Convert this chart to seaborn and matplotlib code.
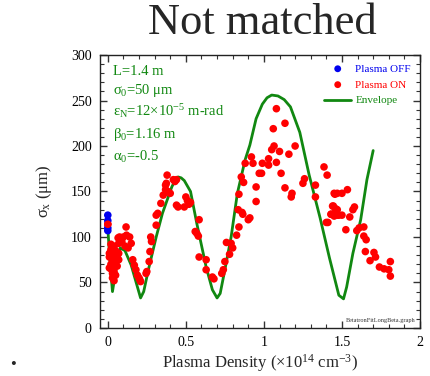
import numpy as np
import pandas as pd
import matplotlib
matplotlib.use("Agg")
import matplotlib.pyplot as plt
from matplotlib.ticker import MultipleLocator
import seaborn as sns

# Plasma OFF measurements (density, beam size in um)
off_density = [0.00, 0.00, 0.00, 0.00]
off_sigma = [124, 118, 110, 107]

# Plasma ON measurements
on_density = [
    0.00, 0.01, 0.01, 0.02, 0.02, 0.02, 0.03, 0.03, 0.04, 0.04, 0.03, 0.04,
    0.05, 0.05, 0.06, 0.06, 0.07, 0.07, 0.04, 0.03, 0.05, 0.02, 0.01,
    0.066, 0.117, 0.075, 0.10, 0.12, 0.15, 0.13, 0.11, 0.07, 0.14, 0.09,
    0.16, 0.17, 0.18, 0.19, 0.20, 0.21, 0.245, 0.25, 0.205,
    0.265, 0.27, 0.28, 0.275, 0.31, 0.31, 0.32, 0.34, 0.355, 0.37, 0.375,
    0.38, 0.42, 0.44, 0.43, 0.385, 0.37, 0.40,
    0.44, 0.45, 0.49, 0.50, 0.51, 0.52, 0.53, 0.585, 0.56, 0.57, 0.58,
    0.585, 0.63, 0.63, 0.67, 0.68, 0.73, 0.74, 0.75, 0.78, 0.76, 0.79,
    0.80, 0.825, 0.84, 0.835, 0.86, 0.90, 0.84, 0.855, 0.87, 0.88, 0.93,
    0.95, 0.95, 0.97, 0.91, 0.865,
    1.08, 1.06, 1.135, 1.065, 1.05, 1.10, 1.20, 1.16, 0.92, 0.99, 1.03,
    1.03, 1.08, 0.985, 1.11, 1.135, 1.18, 1.175, 1.25, 1.26, 1.33, 1.33,
    1.385, 1.405, 1.455, 1.47, 1.445, 1.43, 1.46, 1.41, 1.48,
    1.45, 1.50, 1.535, 1.44, 1.46, 1.47, 1.43, 1.45, 1.47, 1.50, 1.55,
    1.57, 1.58, 1.40, 1.525, 1.595, 1.61, 1.64, 1.64, 1.655, 1.65, 1.705,
    1.715, 1.68, 1.81, 1.74, 1.77, 1.80, 1.81,
]
on_sigma = [
    114, 78, 82, 86, 70, 65, 60, 55, 52, 62, 75, 80,
    72, 85, 78, 68, 75, 82, 90, 70, 58, 92, 66,
    99, 111, 100, 100, 102, 93, 88, 90, 93, 100, 95,
    75, 69, 64, 58, 55, 51, 60, 62, 53,
    73, 84, 95, 100, 113, 124, 126, 137, 146, 152, 159,
    168, 163, 163, 161, 150, 157, 148,
    135, 133, 133, 144, 140, 136, 138, 119, 106, 104, 101,
    78, 75, 64, 56, 54, 60, 64, 73, 81, 94, 93,
    88, 102, 111, 130, 127, 119, 147, 166, 160, 181, 181,
    155, 139, 170, 121, 125,
    241, 219, 225, 200, 196, 194, 200, 191, 188, 181, 186,
    179, 182, 170, 170, 154, 148, 144, 159, 164, 157, 144,
    177, 168, 147, 148, 134, 125, 128, 116, 124,
    148, 148, 152, 134, 131, 130, 125, 123, 124, 124, 122,
    130, 133, 116, 108, 107, 110, 111, 101, 97, 84, 83,
    78, 74, 73, 67, 65, 64, 57,
]

# Envelope model
env_density = [
    0.00, 0.015, 0.03, 0.05, 0.08, 0.11, 0.15, 0.19, 0.21, 0.23, 0.26,
    0.31, 0.35, 0.41, 0.43, 0.45, 0.47, 0.49, 0.53, 0.57, 0.63, 0.67,
    0.70, 0.72, 0.75, 0.79, 0.83, 0.88, 0.91, 0.95, 0.99, 1.02, 1.05,
    1.09, 1.13, 1.17, 1.23, 1.29, 1.36, 1.42, 1.48, 1.51, 1.53, 1.57,
    1.62, 1.66, 1.70,
]
env_sigma = [
    110, 70, 40, 62, 88, 85, 69, 45, 33, 40, 64,
    100, 126, 155, 162, 166, 165, 162, 150, 115, 67, 42,
    33, 38, 64, 100, 148, 185, 201, 230, 246, 253, 256,
    255, 251, 243, 215, 168, 121, 77, 36, 32, 45, 82,
    119, 163, 195,
]

sns.set_theme(style="ticks")
plt.rcParams["font.family"] = ["Liberation Serif", "DejaVu Serif"]
plt.rcParams["mathtext.fontset"] = "custom"
plt.rcParams["mathtext.rm"] = "Liberation Serif"
plt.rcParams["mathtext.it"] = "Liberation Serif"
plt.rcParams["mathtext.bf"] = "Liberation Serif:bold"

fig = plt.figure(figsize=(4.31, 3.76), dpi=100)
ax = fig.add_axes([0.232, 0.1277, 0.7425, 0.726])

green = "#118811"
sns.lineplot(x=env_density, y=env_sigma, ax=ax, color=green, linewidth=2.0,
             sort=False, estimator=None, label="Envelope", zorder=2)
sns.scatterplot(x=on_density, y=on_sigma, ax=ax, color="#ff0000", s=30,
                edgecolor="none", label="Plasma ON", zorder=3)
sns.scatterplot(x=off_density, y=off_sigma, ax=ax, color="#0000ee", s=30,
                edgecolor="none", label="Plasma OFF", zorder=4)
# redraw the one ON point that sits in the OFF group
sns.scatterplot(x=on_density[:1], y=on_sigma[:1], ax=ax, color="#ff0000",
                s=30, edgecolor="none", zorder=5, legend=False)

ax.set_xlim(-0.05, 2.0)
ax.set_ylim(0, 300)
ax.xaxis.set_major_locator(MultipleLocator(0.5))
ax.xaxis.set_minor_locator(MultipleLocator(0.1))
ax.yaxis.set_major_locator(MultipleLocator(50))
ax.yaxis.set_minor_locator(MultipleLocator(10))
ax.set_xticks([0, 0.5, 1, 1.5, 2])
ax.set_xticklabels(["0", "0.5", "1", "1.5", "2"])
ax.tick_params(which="both", direction="in", top=True, right=True,
               colors="#333333", labelcolor="black", labelsize=10, pad=6)
ax.tick_params(which="major", length=5, width=1)
ax.tick_params(which="minor", length=3, width=0.8)
for sp in ax.spines.values():
    sp.set_color("#222222")
    sp.set_linewidth(1.0)

ax.set_xlabel(r"Plasma Density ($\times$10$^{14}$ cm$^{-3}$)", fontsize=12,
              labelpad=2)
ax.set_ylabel(r"$\sigma_{\mathrm{x}}$ ($\mu$m)", fontsize=12, labelpad=12)

# legend: OFF, ON, Envelope with text in series colours
handles, labels = ax.get_legend_handles_labels()
order = [labels.index("Plasma OFF"), labels.index("Plasma ON"),
         labels.index("Envelope")]
leg = ax.legend([handles[i] for i in order], [labels[i] for i in order],
                loc="upper right", frameon=False, fontsize=8,
                handlelength=2.4, handletextpad=0.4, labelspacing=0.55,
                borderaxespad=0.4, markerscale=0.9)
for txt, col in zip(leg.get_texts(), ["#0000ee", "#ff0000", green]):
    txt.set_color(col)

# beam parameters
params = [
    "L=1.4 m",
    r"$\sigma_0$=50 $\mu$m",
    r"$\varepsilon_N$=12$\times$10$^{-5}$ m-rad",
    r"$\beta_0$=1.16 m",
    r"$\alpha_0$=-0.5",
]
ypos = [0.94, 0.87, 0.795, 0.71, 0.625]
for t, yy in zip(params, ypos):
    ax.text(0.04, yy, t, transform=ax.transAxes, color=green, fontsize=10.5,
            va="center", ha="left")

ax.text(0.985, 0.02, "BetatronFitLongBeta.graph", transform=ax.transAxes,
        fontsize=4.5, ha="right", va="bottom", color="#333333")

fig.text(0.608, 0.94, "Not matched", fontsize=32, ha="center", va="center")
fig.text(0.03, 0.03, "\u2022", fontsize=12, ha="center", va="center")

fig.savefig("out.png", dpi=100)
